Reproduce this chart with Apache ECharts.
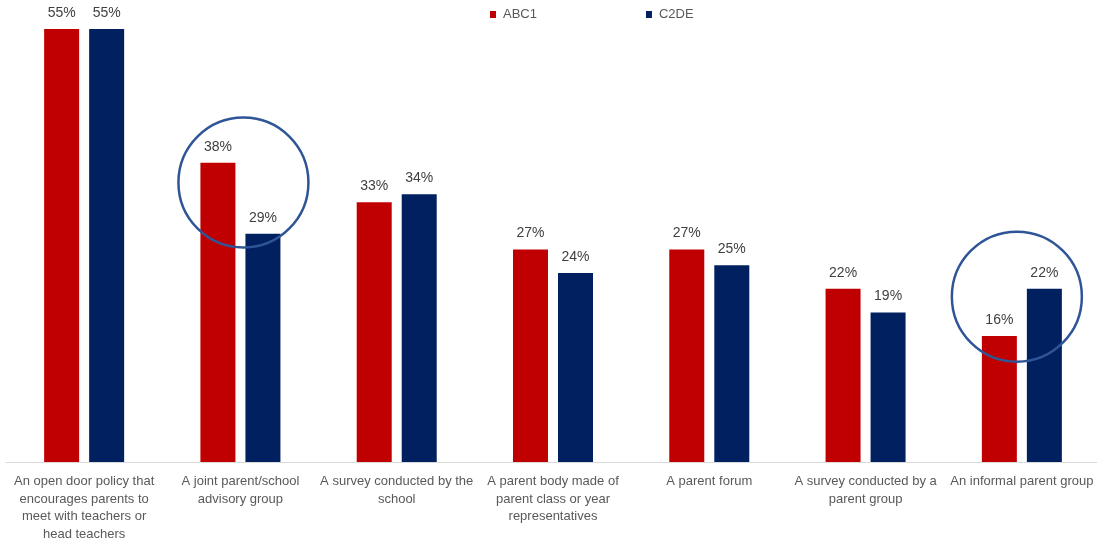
<!DOCTYPE html>
<html>
<head>
<meta charset="utf-8">
<script src="https://cdn.jsdelivr.net/npm/echarts@6/dist/echarts.min.js"></script>
<style>
html,body{margin:0;padding:0;background:#fff;overflow:hidden;}
#main{width:1101px;height:540px;}
</style>
</head>
<body>
<div id="main"></div>
<script>
const categories = [
  "An open door policy that\nencourages parents to\nmeet with teachers or\nhead teachers",
  "A joint parent/school\nadvisory group",
  "A survey conducted by the\nschool",
  "A parent body made of\nparent class or year\nrepresentatives",
  "A parent forum",
  "A survey conducted by a\nparent group",
  "An informal parent group"
];
const seriesNames = ["ABC1", "C2DE"];
const abc1 = [55, 38, 33, 27, 27, 22, 16];
const c2de = [55, 29, 34, 24, 25, 19, 22];
// highlighted pairs: [category index, value at circle centre]
const highlights = [[1, 35.5], [6, 21.0]];

const FONT = "Liberation Sans";
const chart = echarts.init(document.getElementById('main'));
const labelCfg = {
  show: true, position: 'top', distance: 9,
  formatter: p => p.value + '%',
  color: '#404040', fontSize: 14, fontFamily: FONT
};
chart.setOption({
  animation: false,
  textStyle: { fontFamily: FONT },
  legend: {
    data: seriesNames,
    left: 490, top: 8, padding: 0,
    itemWidth: 6, itemHeight: 7, itemGap: 109,
    icon: 'rect',
    textStyle: { color: '#595959', fontSize: 13, fontFamily: FONT, padding: [0, 0, 0, 2] }
  },
  grid: { left: 6, top: 29, width: 1094, height: 433, containLabel: false, outerBoundsMode: 'none' },
  xAxis: {
    type: 'category',
    data: categories,
    axisLine: { show: true, lineStyle: { color: '#d9d9d9', width: 1 } },
    axisTick: { show: false },
    axisLabel: {
      interval: 0, margin: 11, color: '#595959', fontSize: 13,
      fontFamily: FONT, lineHeight: 17.5, align: 'center'
    }
  },
  yAxis: {
    type: 'value', min: 0, max: 55, show: false,
    splitLine: { show: false }
  },
  series: [
    { name: seriesNames[0], type: 'bar', data: abc1, barWidth: 35, barGap: '28.6%',
      itemStyle: { color: '#C00000' }, label: labelCfg },
    { name: seriesNames[1], type: 'bar', data: c2de, barWidth: 35, barGap: '28.6%',
      itemStyle: { color: '#002060' }, label: labelCfg }
  ]
});

const circleDx = [3, -5];
const circles = highlights.map((h, i) => {
  const pt = chart.convertToPixel({ gridIndex: 0 }, [h[0], h[1]]);
  return {
    type: 'circle',
    shape: { cx: pt[0] + circleDx[i], cy: pt[1], r: 65 },
    style: { fill: 'none', stroke: '#2F5597', lineWidth: 2.5 },
    z: 100
  };
});
chart.setOption({ graphic: circles });
</script>
</body>
</html>
